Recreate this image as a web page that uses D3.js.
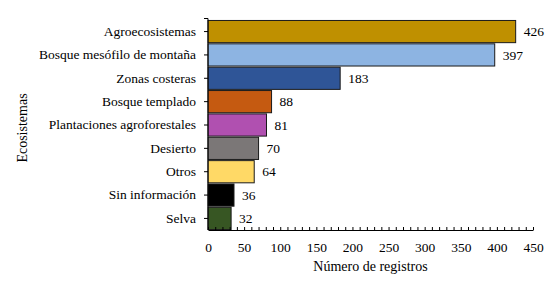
<!DOCTYPE html>
<html>
<head>
<meta charset="utf-8">
<script src="https://cdn.jsdelivr.net/npm/d3@7"></script>
<style>
  body { margin: 0; background: #fff; }
  svg text { font-family: "Liberation Serif", "Times New Roman", serif; fill: #000; }
</style>
</head>
<body>
<div id="chart"></div>
<script>
        // data
        const categories = ["Agroecosistemas", "Bosque mesófilo de montaña", "Zonas costeras",
            "Bosque templado", "Plantaciones agroforestales", "Desierto", "Otros",
            "Sin información", "Selva"];
        const counts = [426, 397, 183, 88, 81, 70, 64, 36, 32];
        const barColors = ["#BF9000", "#8DB4E2", "#2F5597", "#C55A11", "#B050B0",
            "#7B7777", "#FFD966", "#000000", "#375623"];
        const xTicks = [0, 50, 100, 150, 200, 250, 300, 350, 400, 450];

        const data = categories.map((c, i) => ({ cat: c, value: counts[i], color: barColors[i] }));

        const W = 560, H = 284;
        const margin = { top: 20, right: 28, bottom: 54, left: 208 };
        const width = 533 - margin.left;
        const height = 230 - margin.top;

        const svg = d3.select("#chart")
            .append("svg")
            .attr("width", W)
            .attr("height", H);

        const g = svg.append("g")
            .attr("transform", `translate(${margin.left},${margin.top})`);

        const x = d3.scaleLinear()
            .domain([0, 450])
            .range([0, width]);

        const y = d3.scaleBand()
            .domain(categories)
            .range([0, height])
            .paddingInner(0.05)
            .paddingOuter(0.02);

        // bars
        g.selectAll(".bar")
            .data(data)
            .enter()
            .append("rect")
            .attr("class", "bar")
            .attr("x", 0)
            .attr("y", d => y(d.cat))
            .attr("width", d => x(d.value))
            .attr("height", y.bandwidth())
            .attr("fill", d => d.color)
            .attr("stroke", "#1a1a1a")
            .attr("stroke-width", 1);

        // value labels
        g.selectAll(".val")
            .data(data)
            .enter()
            .append("text")
            .attr("class", "val")
            .attr("x", d => x(d.value) + 8)
            .attr("y", d => y(d.cat) + y.bandwidth() / 2)
            .attr("dy", "0.35em")
            .style("font-size", "13.5px")
            .text(d => d.value);

        // x axis: minor ticks every 10 pointing up
        const xMinor = d3.range(0, 451, 10);
        const xAxis = g.append("g")
            .attr("transform", `translate(0,${height})`)
            .call(d3.axisTop(x).tickValues(xMinor).tickSize(3).tickSizeOuter(0).tickFormat(""));
        xAxis.select(".domain").attr("stroke", "#000");
        xAxis.selectAll(".tick line").attr("stroke", "#000");

        g.append("g")
            .attr("transform", `translate(0,${height})`)
            .call(d3.axisBottom(x).tickValues(xTicks).tickSize(0).tickPadding(12))
            .call(a => a.select(".domain").remove())
            .selectAll("text")
            .style("font-size", "13.5px")
            .attr("fill", "#000");

        // y axis
        const yAxis = g.append("g")
            .call(d3.axisLeft(y).tickSize(4).tickSizeOuter(4).tickPadding(8))
            .attr("transform", "translate(0,0)");
        yAxis.select(".domain").attr("stroke", "#000")
            .attr("d", `M-4,-1.5H0V${height}`);
        yAxis.selectAll(".tick line").attr("stroke", "#000");
        yAxis.selectAll("text")
            .style("font-size", "13.5px")
            .attr("fill", "#000");

        // axis titles
        svg.append("text")
            .attr("x", margin.left + x(225))
            .attr("y", 271)
            .attr("text-anchor", "middle")
            .style("font-size", "14px")
            .text("Número de registros");

        svg.append("text")
            .attr("transform", "rotate(-90)")
            .attr("x", -128)
            .attr("y", 27)
            .attr("text-anchor", "middle")
            .style("font-size", "14px")
            .text("Ecosistemas");
</script>
</body>
</html>
